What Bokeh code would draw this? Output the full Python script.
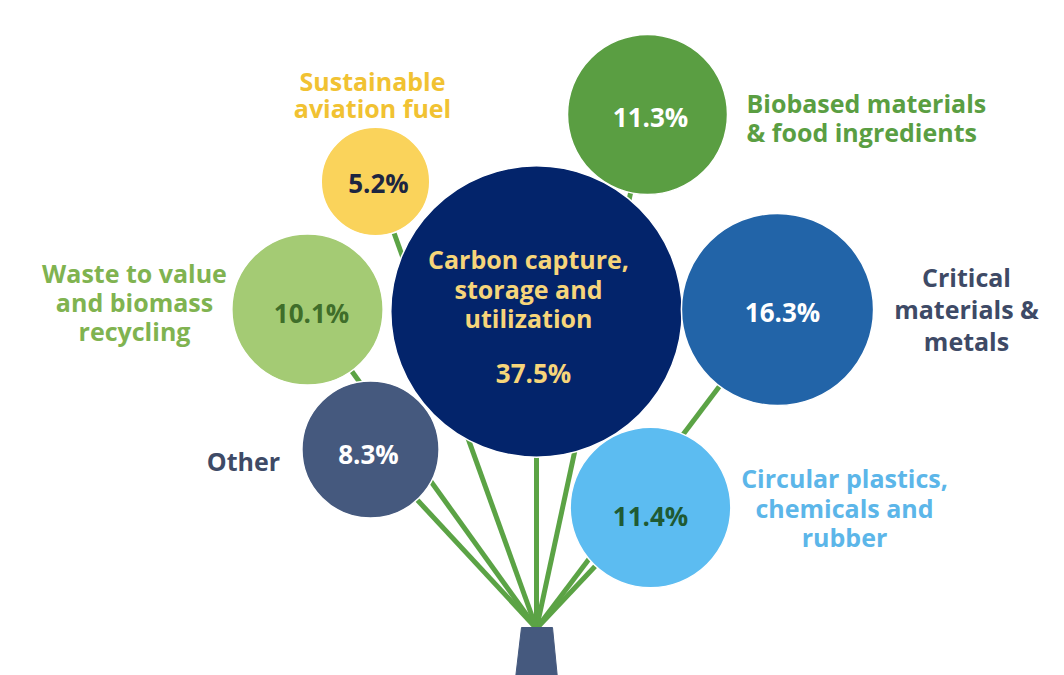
import numpy as np
from bokeh.plotting import figure
from bokeh.models import Range1d
from bokeh.core.properties import value
from bokeh.embed import file_html
from bokeh.resources import INLINE

# data
categories = ["Carbon capture,\nstorage and\nutilization",
              "Critical\nmaterials &\nmetals",
              "Circular plastics,\nchemicals and\nrubber",
              "Biobased materials\n& food ingredients",
              "Waste to value\nand biomass\nrecycling",
              "Other",
              "Sustainable\naviation fuel"]
shares = [37.5, 16.3, 11.4, 11.3, 10.1, 8.3, 5.2]

# layout of the bouquet (page pixels)
cx = [536, 777, 650, 647, 307, 370, 375]
cy = [311, 309, 507, 114, 309, 449, 181]
pct_dx = [-3, 5, 0, 3, 4, -2, 3]
pct_dy = [61, 2, 8, 2, 3, 4, 1]
lab_x = [528, 966, 844, 746, 134, 243, 372]
lab_y = [288, 308, 507, 117, 301, 460, 94]
lab_align = ["center", "center", "center", "left", "center", "center", "center"]
line_gap = [29.5, 32, 29.5, 29, 29, 0, 27]

fill = ["#03246B", "#2264A8", "#5CBCF1", "#5A9E42", "#A4CB74", "#45597E", "#FAD35B"]
lab_col = ["#F6D57A", "#3E4A66", "#5CB6E9", "#5A9E42", "#80B350", "#3E4A66", "#F1C232"]
pct_col = ["#F6D57A", "#FFFFFF", "#1F5A33", "#FFFFFF", "#3F6E2A", "#FFFFFF", "#1C2541"]

stem_x, stem_y = 536, 628
k = 23.8  # radius per sqrt(share)
radius = [k * np.sqrt(s) for s in shares]

p = figure(width=1064, height=675, x_range=Range1d(0, 1064), y_range=Range1d(675, 0),
           output_backend="svg", toolbar_location=None, min_border=0)
p.axis.visible = False
p.grid.visible = False
p.outline_line_color = None
p.background_fill_color = "white"

# stems
p.segment(x0=[stem_x] * len(cx), y0=[stem_y] * len(cy), x1=cx, y1=cy,
          line_color="#5BA345", line_width=5)

# vase
p.patch([stem_x - 15, stem_x + 16, stem_x + 21, stem_x - 21],
        [stem_y - 1, stem_y - 1, stem_y + 50, stem_y + 50],
        fill_color="#45597E", line_color="#45597E")

# bubbles
p.circle(x=cx, y=cy, radius=radius, fill_color=fill, line_color="white", line_width=1.5)

font = value("Open Sans")

# percentages
p.text(x=[a + b for a, b in zip(cx, pct_dx)], y=[a + b for a, b in zip(cy, pct_dy)],
       text=[f"{s:.1f}%" for s in shares], text_color=pct_col,
       text_font=font, text_font_style="bold", text_font_size="26px",
       text_align="center", text_baseline="middle")

# category labels, one text per line
tx, ty, tt, tc, ta = [], [], [], [], []
for i, lab in enumerate(categories):
    lines = lab.split("\n")
    n = len(lines)
    for j, ln in enumerate(lines):
        tx.append(lab_x[i])
        ty.append(lab_y[i] + (j - (n - 1) / 2) * line_gap[i])
        tt.append(ln)
        tc.append(lab_col[i])
        ta.append(lab_align[i])

for al in ["center", "left"]:
    idx = [m for m in range(len(tt)) if ta[m] == al]
    p.text(x=[tx[m] for m in idx], y=[ty[m] for m in idx], text=[tt[m] for m in idx],
           text_color=[tc[m] for m in idx], text_font=font, text_font_style="bold",
           text_font_size="25px", text_align=al, text_baseline="middle")

open("out.html", "w").write(file_html(p, INLINE))
